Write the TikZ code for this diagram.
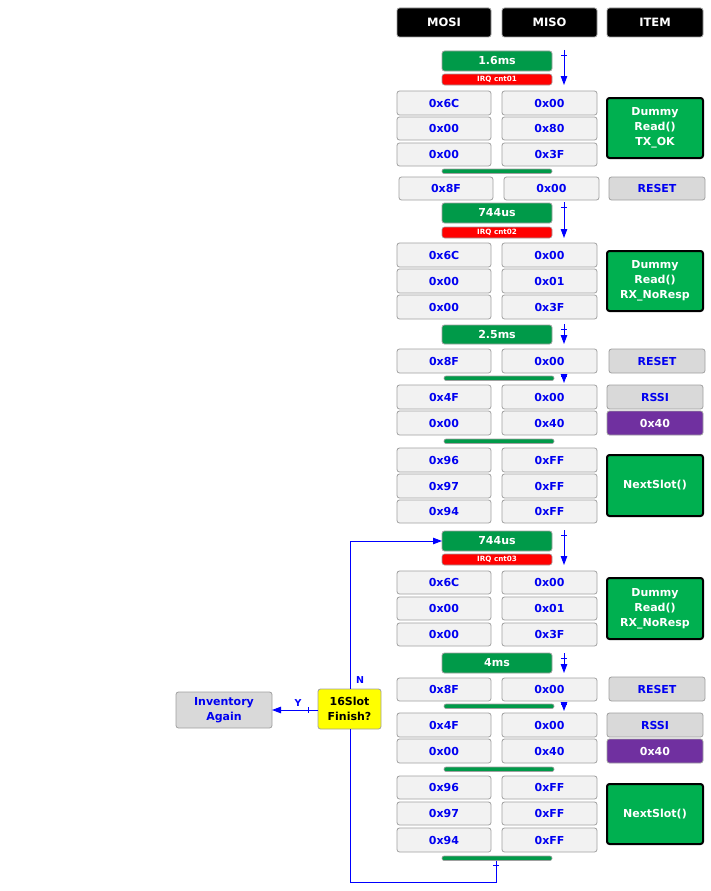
\documentclass[tikz,border=0pt]{standalone}
\usepackage{fontspec}
\setmainfont{DejaVu Sans}
\usetikzlibrary{arrows.meta,calc}
\definecolor{cellfill}{HTML}{F2F2F2}
\definecolor{cellline}{HTML}{A0A0A0}
\definecolor{txtblue}{HTML}{0000F0}
\definecolor{tgreen}{HTML}{009A49}
\definecolor{dgreen}{HTML}{00B050}
\definecolor{irqred}{HTML}{FF0000}
\definecolor{ppl}{HTML}{7030A0}
\definecolor{gfill}{HTML}{D9D9D9}
\definecolor{yel}{HTML}{FFFF00}
\definecolor{lblue}{HTML}{0000FF}
\newcommand\bx[7]{\node[#6, minimum width={(#4-#2)*1pt}, minimum height={(#5-#3)*1pt}] (#1) at ({(#2+#4)/2},{(#3+#5)/2}) {#7};}
\newcommand\tarr[4]{\coordinate (#1a) at (#2,#3); \coordinate (#1b) at (#2,#4);
  \draw[flow] (#1a) -- (#1b); \draw[flowline] ($(#1a)+(-3,5)$) -- ($(#1a)+(3,5)$);}
\tikzset{
  base/.style={inner sep=0pt, outer sep=0pt, rounded corners=2.5pt, align=center, font=\fontsize{11}{15}\selectfont\bfseries},
  cell/.style={base, draw=cellline, line width=0.8pt, fill=cellfill, text=txtblue},
  hdr/.style={base, draw=cellline, line width=0.8pt, fill=black, text=white, font=\fontsize{11.5}{13}\selectfont\bfseries},
  tbox/.style={base, draw=cellline, line width=0.8pt, fill=tgreen, text=white},
  irq/.style={base, draw=cellline, line width=0.6pt, fill=irqred, text=white, font=\fontsize{7.2}{8}\selectfont\bfseries},
  dbox/.style={base, draw=black, line width=2pt, fill=dgreen, text=white},
  gbox/.style={base, draw=cellline, line width=0.8pt, fill=gfill, text=txtblue},
  pbox/.style={base, draw=cellline, line width=0.8pt, fill=ppl, text=white},
  gbar/.style={base, rounded corners=2pt, draw=cellline, line width=0.6pt, fill=tgreen},
  decbox/.style={base, draw=cellline, line width=0.8pt, fill=yel, text=black},
  flowline/.style={draw=lblue, line width=0.9pt},
  flow/.style={flowline, -{Triangle[length=9pt,width=6.5pt]}},
  lbl/.style={inner sep=0pt, text=lblue, font=\fontsize{9.5}{10}\selectfont\bfseries}
}
\begin{document}
\begin{tikzpicture}[x=1pt,y=-1pt]
\useasboundingbox (0,0) rectangle (710,891);
% headers
\bx{hmosi}{397}{8}{491}{37}{hdr}{MOSI}
\bx{hmiso}{502}{8}{597}{37}{hdr}{MISO}
\bx{hitem}{607}{8}{703}{37}{hdr}{ITEM}
% block 1
\bx{t1}{442}{51}{552}{71}{tbox}{1.6ms}
\bx{irq1}{442}{74}{552}{85}{irq}{IRQ cnt01}
\tarr{ar1}{564}{50}{85}
\bx{a1}{397}{91}{491}{115}{cell}{0x6C}
\bx{b1}{502}{91}{597}{115}{cell}{0x00}
\bx{a2}{397}{117}{491}{140}{cell}{0x00}
\bx{b2}{502}{117}{597}{140}{cell}{0x80}
\bx{a3}{397}{143}{491}{166}{cell}{0x00}
\bx{b3}{502}{143}{597}{166}{cell}{0x3F}
\bx{d1}{607}{98}{703}{158}{dbox}{Dummy\\Read()\\TX\_OK}
\bx{bar1}{442}{169}{552}{173.5}{gbar}{}
\bx{a4}{399}{177}{493}{200}{cell}{0x8F}
\bx{b4}{504}{177}{599}{200}{cell}{0x00}
\bx{rs1}{609}{177}{705}{200}{gbox}{RESET}
% block 2
\bx{t2}{442}{203}{552}{223}{tbox}{744us}
\bx{irq2}{442}{227}{552}{238}{irq}{IRQ cnt02}
\tarr{ar2}{564}{202}{238}
\bx{a5}{397}{243}{491}{267}{cell}{0x6C}
\bx{b5}{502}{243}{597}{267}{cell}{0x00}
\bx{a6}{397}{269}{491}{293}{cell}{0x00}
\bx{b6}{502}{269}{597}{293}{cell}{0x01}
\bx{a7}{397}{295}{491}{319}{cell}{0x00}
\bx{b7}{502}{295}{597}{319}{cell}{0x3F}
\bx{d2}{607}{251}{703}{311}{dbox}{Dummy\\Read()\\RX\_NoResp}
\bx{t3}{442}{325}{552}{344}{tbox}{2.5ms}
\tarr{ar3}{564}{324}{344}
\bx{a8}{397}{349}{491}{373}{cell}{0x8F}
\bx{b8}{502}{349}{597}{373}{cell}{0x00}
\bx{rs2}{609}{349}{705}{373}{gbox}{RESET}
\bx{bar2}{444}{376}{554}{380.5}{gbar}{}
\coordinate (s1a) at (564,374); \coordinate (s1b) at (564,383);
\draw[flow] (s1a) -- (s1b); \draw[flowline] ($(s1a)+(-3,2)$) -- ($(s1a)+(3,2)$);
\bx{a9}{397}{385}{491}{409}{cell}{0x4F}
\bx{b9}{502}{385}{597}{409}{cell}{0x00}
\bx{rssi1}{607}{385}{703}{409}{gbox}{RSSI}
\bx{a10}{397}{411}{491}{435}{cell}{0x00}
\bx{b10}{502}{411}{597}{435}{cell}{0x40}
\bx{p1}{607}{411}{703}{435}{pbox}{0x40}
\bx{bar3}{444}{439}{554}{443.5}{gbar}{}
\bx{a11}{397}{448}{491}{472}{cell}{0x96}
\bx{b11}{502}{448}{597}{472}{cell}{0xFF}
\bx{a12}{397}{474}{491}{498}{cell}{0x97}
\bx{b12}{502}{474}{597}{498}{cell}{0xFF}
\bx{a13}{397}{500}{491}{523}{cell}{0x94}
\bx{b13}{502}{500}{597}{523}{cell}{0xFF}
\bx{n1}{607}{455}{703}{516}{dbox}{NextSlot()}
% block 3
\bx{t4}{442}{531}{552}{551}{tbox}{744us}
\bx{irq3}{442}{554}{552}{565}{irq}{IRQ cnt03}
\tarr{ar4}{564}{530}{565}
\bx{a14}{397}{571}{491}{594}{cell}{0x6C}
\bx{b14}{502}{571}{597}{594}{cell}{0x00}
\bx{a15}{397}{597}{491}{620}{cell}{0x00}
\bx{b15}{502}{597}{597}{620}{cell}{0x01}
\bx{a16}{397}{623}{491}{646}{cell}{0x00}
\bx{b16}{502}{623}{597}{646}{cell}{0x3F}
\bx{d3}{607}{578}{703}{639}{dbox}{Dummy\\Read()\\RX\_NoResp}
\bx{t5}{442}{653}{552}{673}{tbox}{4ms}
\tarr{ar5}{564}{653}{673}
\bx{a17}{397}{678}{491}{701}{cell}{0x8F}
\bx{b17}{502}{678}{597}{701}{cell}{0x00}
\bx{rs3}{609}{677}{705}{701}{gbox}{RESET}
\bx{bar4}{444}{704}{554}{708.5}{gbar}{}
\coordinate (s2a) at (564,702); \coordinate (s2b) at (564,711);
\draw[flow] (s2a) -- (s2b); \draw[flowline] ($(s2a)+(-3,2)$) -- ($(s2a)+(3,2)$);
\bx{a18}{397}{713}{491}{737}{cell}{0x4F}
\bx{b18}{502}{713}{597}{737}{cell}{0x00}
\bx{rssi2}{607}{713}{703}{737}{gbox}{RSSI}
\bx{a19}{397}{739}{491}{763}{cell}{0x00}
\bx{b19}{502}{739}{597}{763}{cell}{0x40}
\bx{p2}{607}{739}{703}{763}{pbox}{0x40}
\bx{bar5}{444}{767}{554}{771.5}{gbar}{}
\bx{a20}{397}{776}{491}{799}{cell}{0x96}
\bx{b20}{502}{776}{597}{799}{cell}{0xFF}
\bx{a21}{397}{802}{491}{825}{cell}{0x97}
\bx{b21}{502}{802}{597}{825}{cell}{0xFF}
\bx{a22}{397}{828}{491}{852}{cell}{0x94}
\bx{b22}{502}{828}{597}{852}{cell}{0xFF}
\bx{n2}{607}{784}{703}{844}{dbox}{NextSlot()}
\bx{bar6}{442}{856}{552}{860.5}{gbar}{}
% decision
\bx{dec}{318}{689}{381}{729}{decbox}{16Slot\\Finish?}
\bx{inv}{176}{692}{272}{728}{gbox}{Inventory\\Again}
\coordinate (lp0) at (496,882);
\coordinate (lp1) at (350,882);
\draw[flowline] (bar6.south -| lp0) -- (lp0) -- (lp1) -- (lp1 |- dec.south);
\draw[flowline] ($(bar6.south -| lp0)+(-3,5)$) -- ($(bar6.south -| lp0)+(3,5)$);
\draw[flow] (lp1 |- dec.north) |- (t4.west);
\draw[flow] (dec.west |- inv.east) -- (inv.east);
\draw[flowline] ($(dec.west |- inv.east)+(-10,-3)$) -- ($(dec.west |- inv.east)+(-10,3)$);
\node[lbl] (lN) at (360,680) {N};
\node[lbl] (lY) at (298,703) {Y};
\end{tikzpicture}
\end{document}
